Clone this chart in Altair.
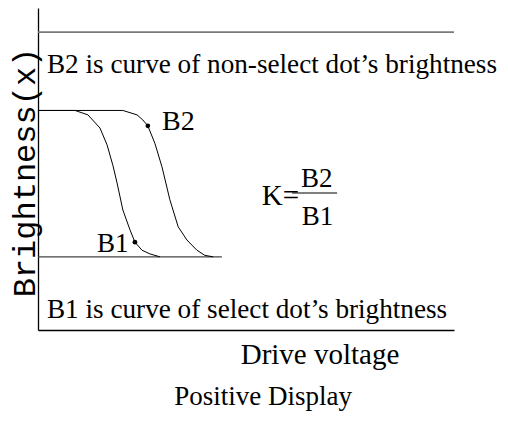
import altair as alt
import pandas as pd

# Curve B2 (non-select dot) and B1 (select dot): drive voltage vs brightness
b1_x = [0, 0.89, 1.20, 1.49, 1.66, 1.80, 1.90, 2.04, 2.21, 2.33, 2.50, 2.69, 2.93]
b1_y = [2.0, 2.0, 1.94, 1.76, 1.53, 1.25, 1.01, 0.64, 0.37, 0.20, 0.09, 0.04, 0.0]
b2_x = [0, 2.04, 2.38, 2.52, 2.64, 2.81, 2.98, 3.17, 3.37, 3.58, 3.82, 4.01, 4.21]
b2_y = [2.0, 2.0, 1.94, 1.87, 1.79, 1.55, 1.23, 0.78, 0.41, 0.23, 0.09, 0.02, 0.0]

dot_names = ["B1", "B2"]
dot_x = [2.33, 2.64]
dot_y = [0.20, 1.79]

# reference levels
top_level = 3.07
low_level = 0.0
low_end = 4.42

# annotation texts (left aligned)
left_texts = ["B2 is curve of non-select dot\u2019s brightness",
              "B1 is curve of select dot\u2019s brightness",
              "B2", "B1", "K="]
left_x = [0.216, 0.216, 2.98, 1.42, 5.38]
left_y = [2.51, -0.836, 1.73, 0.066, 0.71]
left_size = [27.2, 27.2, 28, 27, 29]

# fraction
frac_texts = ["B2", "B1"]
frac_x = [6.70, 6.72]
frac_y = [0.954, 0.435]
frac_bar = (6.11, 7.19, 0.872)

curves = pd.DataFrame({
    "v": b1_x + b2_x,
    "b": b1_y + b2_y,
    "curve": ["B1"] * len(b1_x) + ["B2"] * len(b2_x),
})
dots = pd.DataFrame({"v": dot_x, "b": dot_y, "curve": dot_names})
left_df = pd.DataFrame({"v": left_x, "b": left_y, "t": left_texts, "s": left_size})
frac_df = pd.DataFrame({"v": frac_x, "b": frac_y, "t": frac_texts})
top_df = pd.DataFrame({"v": [0], "v2": [10], "b": [top_level]})
low_df = pd.DataFrame({"v": [0], "v2": [low_end], "b": [low_level]})
bar_df = pd.DataFrame({"v": [frac_bar[0]], "v2": [frac_bar[1]], "b": [frac_bar[2]]})

xs = alt.Scale(domain=[0, 10], nice=False, zero=False)
ys = alt.Scale(domain=[-1, 3.4], nice=False, zero=False)

x_axis = alt.Axis(ticks=False, labels=False, grid=False, domainColor="black",
                  domainWidth=1.3, title="Drive voltage", titleX=281.5, titleY=33,
                  titleAngle=0, titleAlign="center", titleBaseline="alphabetic",
                  titleFont="Liberation Serif", titleFontSize=29,
                  titleFontWeight="normal", titleColor="black")
y_axis = alt.Axis(ticks=False, labels=False, grid=False, domainColor="black",
                  domainWidth=1.3, title="Brightness(x)", titleX=-4, titleY=164,
                  titleAngle=270, titleAlign="center", titleBaseline="alphabetic",
                  titleFont="Liberation Mono", titleFontSize=32,
                  titleFontWeight="normal", titleColor="black")

lines = alt.Chart(curves).mark_line(color="black", strokeWidth=1).encode(
    x=alt.X("v:Q", scale=xs, axis=x_axis),
    y=alt.Y("b:Q", scale=ys, axis=y_axis),
    detail="curve:N",
)
pts = alt.Chart(dots).mark_circle(color="black", size=22, opacity=1).encode(
    x=alt.X("v:Q", scale=xs), y=alt.Y("b:Q", scale=ys))
top_rule = alt.Chart(top_df).mark_rule(color="#7a7a7a", strokeWidth=1.6).encode(
    x=alt.X("v:Q", scale=xs), x2="v2:Q", y=alt.Y("b:Q", scale=ys))
low_rule = alt.Chart(low_df).mark_rule(color="#444444", strokeWidth=1.3).encode(
    x=alt.X("v:Q", scale=xs), x2="v2:Q", y=alt.Y("b:Q", scale=ys))
bar_rule = alt.Chart(bar_df).mark_rule(color="black", strokeWidth=1.2).encode(
    x=alt.X("v:Q", scale=xs), x2="v2:Q", y=alt.Y("b:Q", scale=ys))
ltext = alt.Chart(left_df).mark_text(align="left", baseline="alphabetic",
                                     font="Liberation Serif", color="black").encode(
    x=alt.X("v:Q", scale=xs), y=alt.Y("b:Q", scale=ys), text="t:N",
    size=alt.Size("s:Q", scale=None))
ftext = alt.Chart(frac_df).mark_text(align="center", baseline="alphabetic",
                                     font="Liberation Serif", color="black",
                                     fontSize=27).encode(
    x=alt.X("v:Q", scale=xs), y=alt.Y("b:Q", scale=ys), text="t:N")

chart = alt.layer(top_rule, low_rule, lines, pts, bar_rule, ltext, ftext).properties(
    width=416, height=322,
    autosize="none",
    background="white",
    padding={"left": 30, "top": 0, "right": 46, "bottom": 84},
    title=alt.TitleParams("Positive Display", orient="bottom", anchor="middle",
                          frame="group", dx=17, offset=36, baseline="alphabetic",
                          font="Liberation Serif", fontSize=27,
                          fontWeight="normal", color="black"),
).configure_view(stroke=None)

chart.save("out.html", embed_options={"renderer": "svg", "actions": False})
